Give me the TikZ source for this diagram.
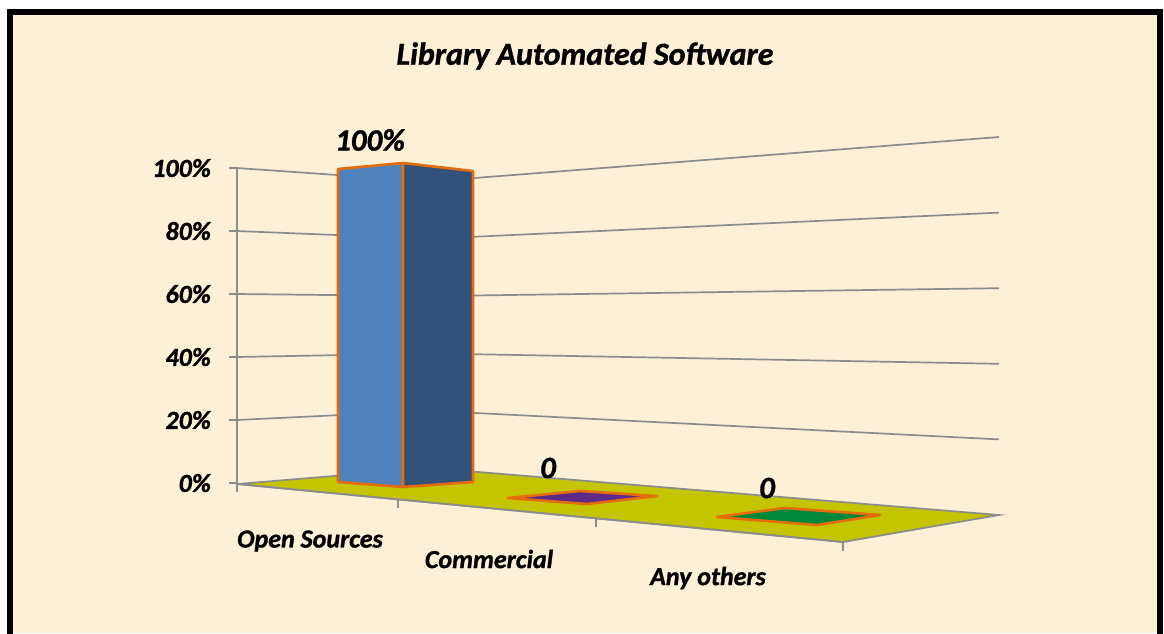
\documentclass[tikz,border=0pt]{standalone}
\usepackage{fontspec}
\setmainfont{Carlito}[BoldItalicFeatures={FakeBold=1.2}]
\definecolor{paper}{HTML}{FCF0D7}
\definecolor{gridgray}{HTML}{8C8C8C}
\definecolor{floorcol}{HTML}{C4C400}
\definecolor{barfront}{HTML}{4F81BD}
\definecolor{barside}{HTML}{32527A}
\definecolor{barorange}{HTML}{E46C0A}
\definecolor{mkpurple}{HTML}{5F2A87}
\definecolor{mkgreen}{HTML}{00873C}
\begin{document}
\begin{tikzpicture}[x=1pt,y=-1pt,
	lbl/.style={font=\bfseries\itshape\fontsize{26}{26}\selectfont,inner sep=0pt},
	bigl/.style={font=\bfseries\itshape\fontsize{31}{31}\selectfont,inner sep=0pt},
	gridln/.style={draw=gridgray,line width=1.7pt},
	baredge/.style={draw=barorange,line width=2.6pt,line join=round}]
	\useasboundingbox (0,0) rectangle (1164,633);
	\fill[paper] (10,11) rectangle (1160,633);
	\draw[line width=6pt] (10,11.5) rectangle (1160,637);
	% walls
	\foreach \k in {1,...,5}
		\draw[gridln] (237,{483-63*\k}) -- (430,{468-57.3*\k}) -- (999,{515-75.6*\k});
	\filldraw[fill=floorcol,gridln] (237,484) -- (430,468) -- (999,515) -- (843,542) -- cycle;
	% value axis
	\draw[gridln] (237,168) -- (237,492);
	\foreach \k/\v in {0/0,1/20,2/40,3/60,4/80,5/100}{
		\draw[gridln] (229,{483-63*\k}) -- (237,{483-63*\k});
		\node[lbl,anchor=east] (y\v) at (211,{483-63*\k}) {\v\%};
	}
	% category axis
	\draw[gridln] (237,484) -- (843,542);
	\foreach \x/\y in {398/499,596/518,843/542}
		\draw[gridln] (\x,\y) -- (\x,\y+9);
	% zero markers
	\filldraw[fill=mkpurple,baredge] (508,498) -- (580,491) -- (657,496) -- (587,504) -- cycle;
	\filldraw[fill=mkgreen,baredge] (717,517) -- (785,508) -- (880,515) -- (817,525) -- cycle;
	% bar
	\filldraw[fill=barfront,baredge] (338,169) -- (403,163) -- (403,487) -- (338,482) -- cycle;
	\filldraw[fill=barside,baredge] (403,163) -- (473,171) -- (473,482) -- (403,487) -- cycle;
	% labels
	\node[font=\bfseries\itshape\fontsize{32}{32}\selectfont,inner sep=0pt] (title) at (585,56) {Library Automated Software};
	\node[bigl] (vopen) at (370,140) {100\%};
	\node[bigl] (vcomm) at (548,468) {0};
	\node[bigl] (vany) at (767,488) {0};
	\node[lbl] (copen) at (310,541) {Open Sources};
	\node[lbl] (ccomm) at (489,559) {Commercial};
	\node[lbl] (cany) at (708,578) {Any others};
\end{tikzpicture}
\end{document}
